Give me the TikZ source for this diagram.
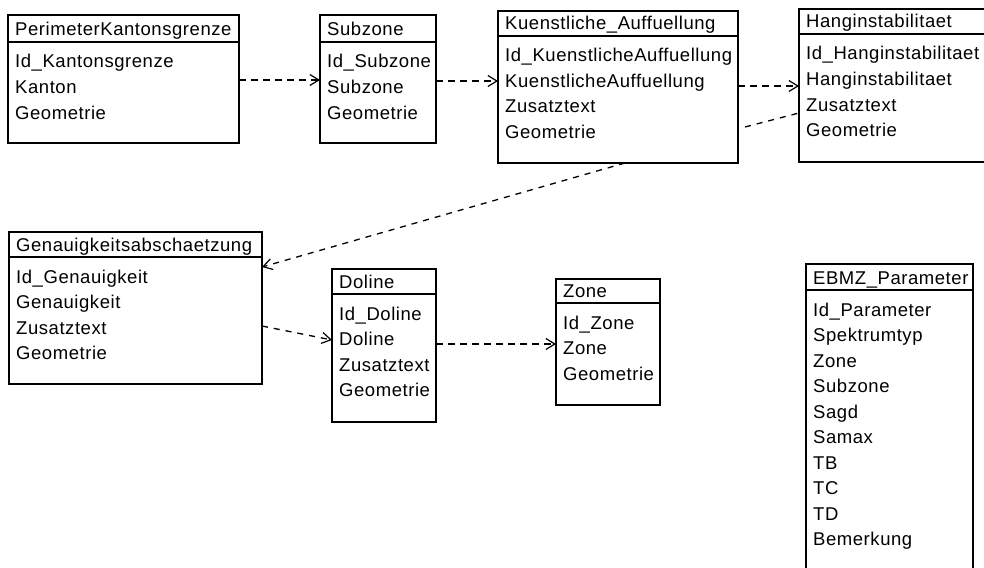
\documentclass[tikz,border=0pt]{standalone}
\usepackage{fontspec}
\setmainfont{Liberation Sans}[LetterSpace=3]
\usetikzlibrary{arrows.meta}
\tikzset{
  clsbox/.style={draw=black, line width=1.3pt, fill=white, inner sep=0pt, outer sep=0pt},
  clsline/.style={draw=black, line width=1.3pt},
  titletxt/.style={inner sep=0pt, font=\fontsize{18.5}{22}\selectfont},
  rowtxt/.style={inner sep=0pt, font=\fontsize{18.5}{22}\selectfont},
  dep/.style={draw=black, line width=1.3pt, dash pattern=on 7pt off 5pt,
    -{Straight Barb[length=9pt,width=11pt,line width=1.2pt]}},
  depdiag/.style={draw=black, line width=1.3pt, dash pattern=on 6pt off 6pt,
    -{Straight Barb[length=9pt,width=11pt,line width=1.2pt]}},
  depplain/.style={draw=black, line width=1.3pt, dash pattern=on 6pt off 6pt}
}
% #1 name, #2 left, #3 top, #4 right, #5 bottom, #6 header line y, #7 title, #8 rows
\newcommand\umlclass[8]{%
  \node[clsbox, anchor=north west, minimum width={(#4-#2)*1pt}, minimum height={(#5-#3)*1pt}] (#1) at (#2,-#3) {};
  \draw[clsline] (#1.west |- 0,-#6) -- (#1.east |- 0,-#6);
  \node[titletxt, anchor=base west] (#1-t) at (#2+7,-#6+6) {#7};
  \foreach \r [count=\i] in {#8} {
    \node[rowtxt, anchor=base west] (#1-\i) at (#2+7,{-(#6+26+25.5*(\i-1))}) {\r};
  }%
}
\begin{document}
\begin{tikzpicture}[x=1pt,y=1pt]
\useasboundingbox (0,0) rectangle (984,-567);
\clip (0,0) rectangle (984,-567);
\fill[white] (0,0) rectangle (984,-567);

\umlclass{perim}{8}{15}{239}{143}{42}{PerimeterKantonsgrenze}{Id\_Kantonsgrenze,Kanton,Geometrie}
\umlclass{subz}{320}{15}{436}{143}{42}{Subzone}{Id\_Subzone,Subzone,Geometrie}
\umlclass{kuen}{498}{11}{738}{163}{36}{Kuenstliche\_Auffuellung}{Id\_KuenstlicheAuffuellung,KuenstlicheAuffuellung,Zusatztext,Geometrie}
\umlclass{hang}{799}{9}{988}{162}{34}{Hanginstabilitaet}{Id\_Hanginstabilitaet,Hanginstabilitaet,Zusatztext,Geometrie}
\umlclass{gena}{9}{232}{262}{384}{257}{Genauigkeitsabschaetzung}{Id\_Genauigkeit,Genauigkeit,Zusatztext,Geometrie}
\umlclass{doli}{332}{269}{436}{422}{294}{Doline}{Id\_Doline,Doline,Zusatztext,Geometrie}
\umlclass{zone}{556}{279}{660}{405}{303}{Zone}{Id\_Zone,Zone,Geometrie}
\umlclass{ebmz}{806}{264}{973}{590}{290}{EBMZ\_Parameter}{Id\_Parameter,Spektrumtyp,Zone,Subzone,Sagd,Samax,TB,TC,TD,Bemerkung}

\coordinate (kfree) at (745,-127);

\draw[dep] (perim.east |- 0,-80) -- (subz.west |- 0,-80);
\draw[dep] (subz.east |- 0,-81) -- (kuen.west |- 0,-81);
\draw[dep] (kuen.east |- 0,-86) -- (hang.west |- 0,-86);
\draw[depplain] (kfree) -- (hang.west |- 0,-113);
\draw[depdiag] (kuen.south -| 625,0) -- (gena.east |- 0,-267);
\draw[depdiag] (gena.east |- 0,-326) -- (doli.west |- 0,-340);
\draw[dep] (doli.east |- 0,-344) -- (zone.west |- 0,-344);
\end{tikzpicture}
\end{document}
